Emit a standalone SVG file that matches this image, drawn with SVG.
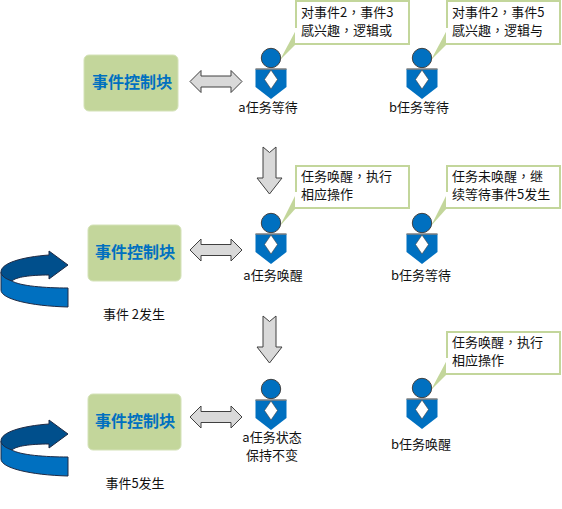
<svg xmlns="http://www.w3.org/2000/svg" width="562" height="509" viewBox="0 0 562 509">
<style>
text{font-family:"Noto Sans CJK TC","Liberation Sans",sans-serif;font-size:13px;fill:#111}
.blk{fill:#c3d69b;stroke:#d4e2b8;stroke-width:1}
.blkt{font-size:16px;font-weight:700;fill:#0070c0;text-anchor:middle}
.lab{text-anchor:middle}
.call{fill:#fff;stroke:#c3d69b;stroke-width:2}
.head{fill:#0070c0;stroke:#404040;stroke-width:1}
.body{fill:#0070c0}
.shld{stroke:#7f7f7f;stroke-width:1.500;fill:none}
.dia{fill:#fff;stroke:#404040;stroke-width:.6}
.arw{fill:#d9d9d9;stroke:#404040;stroke-width:1}
.tail{fill:#c3d69b}
.gap{fill:#fff}
</style>
<defs>
<g id="person">
<circle class="head" cx="0" cy="-11" r="9.700"/>
<path class="body" d="M-15.500 0H15.500V18L0 30L-15.500 18Z"/>
<path class="shld" d="M-15.500 0H15.500"/>
<path class="dia" d="M0 1L6.500 10.500L0 20L-6.500 10.500Z"/>
</g>
<g id="dbl"><path class="arw" d="M0 12L11 1V6.500H41V1L52 12L41 23V17.500H11V23Z"/></g>
<g id="down"><path class="arw" d="M-6.500 0L0 5.500L6.500 0V31H12.500L0 47L-12.500 31H-6.500Z"/></g>
<g id="curve">
<path d="M1 42V60C1 69 30 76 68 77V58C45 58 20 56 12 51Z" fill="#0070c0" stroke="#1f2a44" stroke-width="1"/>
<path d="M1 42C1 33 22 27 49 25V21L68 35L49 49V45C30 45 16 47 12 51C6 49 1 46 1 42Z" fill="#004f8c" stroke="#1f2a44" stroke-width="1"/>
</g>
</defs>
<g id="connectors">
<use href="#dbl" x="190" y="69.500"/>
<use href="#dbl" x="190" y="238"/>
<use href="#dbl" x="190" y="405"/>
<use href="#down" x="269.500" y="147"/>
<use href="#down" x="269.500" y="316"/>
</g>
<g id="block1"><rect class="blk" x="84" y="55" width="94" height="56" rx="5"/><text class="blkt" x="132" y="88">事件控制块</text></g>
<g id="block2"><rect class="blk" x="88" y="225" width="93" height="56" rx="5"/><text class="blkt" x="135" y="258">事件控制块</text><text class="lab" x="134" y="319">事件 2发生</text></g>
<g id="block3"><rect class="blk" x="88" y="394" width="93" height="56" rx="5"/><text class="blkt" x="135" y="427">事件控制块</text><text class="lab" x="135" y="488">事件5发生</text></g>
<g id="loop1"><use href="#curve" x="0" y="230"/></g>
<g id="loop2"><use href="#curve" x="0" y="399"/></g>
<g id="callouts">
<g id="callout1"><path class="call" d="M296 1H409V44H296Z"/><path class="tail" d="M296 30L280 60L296 44Z"/><path class="gap" d="M295 28V43H297V28Z"/><text x="301" y="17">对事件2，事件3</text><text x="301" y="35">感兴趣，逻辑或</text></g>
<g id="callout2"><path class="call" d="M447 1H560V44H447Z"/><path class="tail" d="M447 30L431 60L447 44Z"/><path class="gap" d="M446 28V43H448V28Z"/><text x="452" y="17">对事件2，事件5</text><text x="452" y="35">感兴趣，逻辑与</text></g>
<g id="callout3"><path class="call" d="M296 166H409V208H296Z"/><path class="tail" d="M296 194L280 226L296 208Z"/><path class="gap" d="M295 192V207H297V192Z"/><text x="301" y="181">任务唤醒，执行</text><text x="301" y="199">相应操作</text></g>
<g id="callout4"><path class="call" d="M447 166H560V208H447Z"/><path class="tail" d="M447 194L431 226L447 208Z"/><path class="gap" d="M446 192V207H448V192Z"/><text x="452" y="181">任务未唤醒，继</text><text x="452" y="199">续等待事件5发生</text></g>
<g id="callout5"><path class="call" d="M447 332H560V374H447Z"/><path class="tail" d="M447 360L431 390L447 374Z"/><path class="gap" d="M446 358V373H448V358Z"/><text x="452" y="347">任务唤醒，执行</text><text x="452" y="365">相应操作</text></g>
</g>
<g id="task-a1"><use href="#person" x="271" y="69"/><text class="lab" x="268" y="112">a任务等待</text></g>
<g id="task-b1"><use href="#person" x="422" y="69"/><text class="lab" x="419" y="112">b任务等待</text></g>
<g id="task-a2"><use href="#person" x="271" y="234"/><text class="lab" x="273" y="280">a任务唤醒</text></g>
<g id="task-b2"><use href="#person" x="422" y="234"/><text class="lab" x="421" y="280">b任务等待</text></g>
<g id="task-a3"><use href="#person" x="271" y="400"/><text class="lab" x="272" y="442">a任务状态</text><text class="lab" x="272" y="460">保持不变</text></g>
<g id="task-b3"><use href="#person" x="422" y="399"/><text class="lab" x="421" y="449">b任务唤醒</text></g>
</svg>
